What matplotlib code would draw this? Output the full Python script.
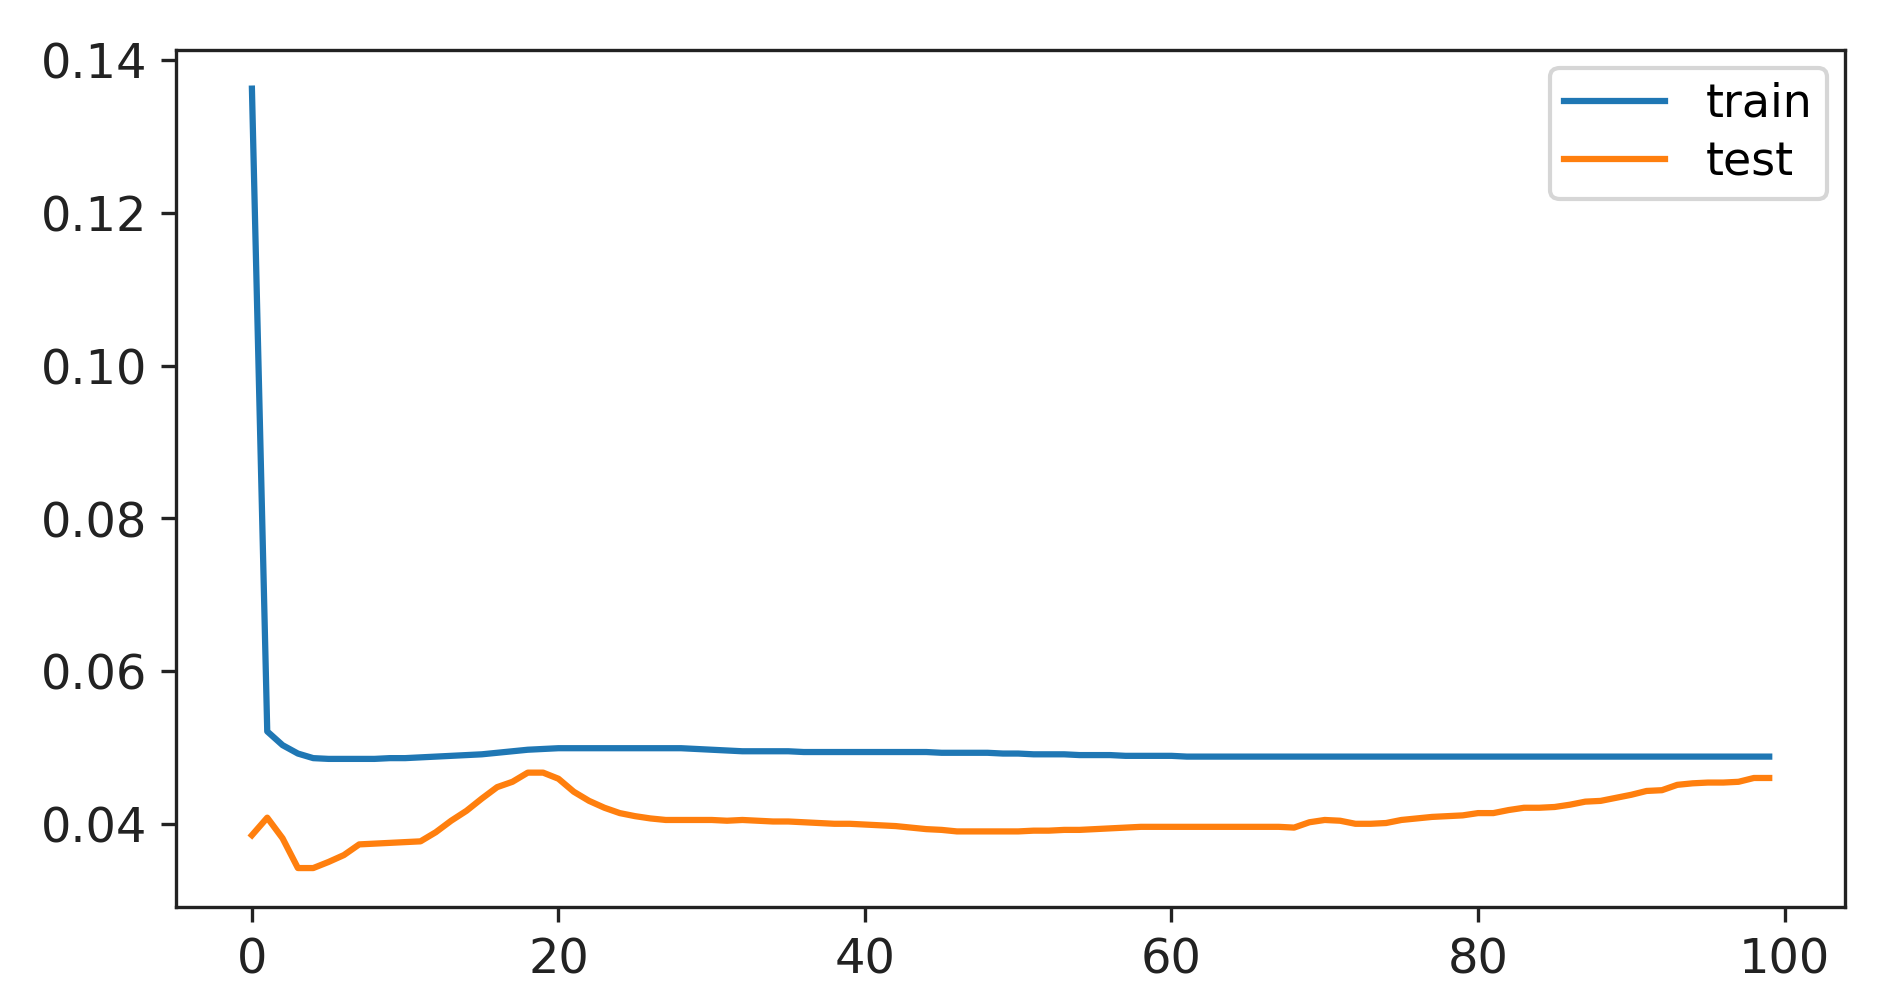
import matplotlib
matplotlib.use("Agg")
import matplotlib.pyplot as plt

# loss per epoch
train = [0.1363, 0.0521, 0.0503, 0.0492, 0.0486, 0.0485, 0.0485, 0.0485, 0.0485, 0.0486,
         0.0486, 0.0487, 0.0488, 0.0489, 0.0490, 0.0491, 0.0493, 0.0495, 0.0497, 0.0498,
         0.0499, 0.0499, 0.0499, 0.0499, 0.0499, 0.0499, 0.0499, 0.0499, 0.0499, 0.0498,
         0.0497, 0.0496, 0.0495, 0.0495, 0.0495, 0.0495, 0.0494, 0.0494, 0.0494, 0.0494,
         0.0494, 0.0494, 0.0494, 0.0494, 0.0494, 0.0493, 0.0493, 0.0493, 0.0493, 0.0492,
         0.0492, 0.0491, 0.0491, 0.0491, 0.0490, 0.0490, 0.0490, 0.0489, 0.0489, 0.0489,
         0.0489, 0.0488, 0.0488, 0.0488, 0.0488, 0.0488, 0.0488, 0.0488, 0.0488, 0.0488,
         0.0488, 0.0488, 0.0488, 0.0488, 0.0488, 0.0488, 0.0488, 0.0488, 0.0488, 0.0488,
         0.0488, 0.0488, 0.0488, 0.0488, 0.0488, 0.0488, 0.0488, 0.0488, 0.0488, 0.0488,
         0.0488, 0.0488, 0.0488, 0.0488, 0.0488, 0.0488, 0.0488, 0.0488, 0.0488, 0.0488]
test = [0.0385, 0.0408, 0.0381, 0.0342, 0.0342, 0.0350, 0.0359, 0.0373, 0.0374, 0.0375,
        0.0376, 0.0377, 0.0389, 0.0404, 0.0417, 0.0433, 0.0448, 0.0455, 0.0467, 0.0467,
        0.0459, 0.0442, 0.0430, 0.0421, 0.0414, 0.0410, 0.0407, 0.0405, 0.0405, 0.0405,
        0.0405, 0.0404, 0.0405, 0.0404, 0.0403, 0.0403, 0.0402, 0.0401, 0.0400, 0.0400,
        0.0399, 0.0398, 0.0397, 0.0395, 0.0393, 0.0392, 0.0390, 0.0390, 0.0390, 0.0390,
        0.0390, 0.0391, 0.0391, 0.0392, 0.0392, 0.0393, 0.0394, 0.0395, 0.0396, 0.0396,
        0.0396, 0.0396, 0.0396, 0.0396, 0.0396, 0.0396, 0.0396, 0.0396, 0.0395, 0.0402,
        0.0405, 0.0404, 0.0400, 0.0400, 0.0401, 0.0405, 0.0407, 0.0409, 0.0410, 0.0411,
        0.0414, 0.0414, 0.0418, 0.0421, 0.0421, 0.0422, 0.0425, 0.0429, 0.0430, 0.0434,
        0.0438, 0.0443, 0.0444, 0.0451, 0.0453, 0.0454, 0.0454, 0.0455, 0.0460, 0.0460]

fig = plt.figure(figsize=(6.263, 3.317), dpi=300)
plt.subplots_adjust(left=0.0937, right=0.982, bottom=0.0884, top=0.950)
plt.plot(train, label="train")
plt.plot(test, label="test")
plt.tick_params(labelsize=11.5, colors="#222222")
ax = plt.gca()
for s in ax.spines.values():
    s.set_color("#222222")
plt.legend(fontsize=11, handlelength=2.2, labelspacing=0.3, borderpad=0.3,
           handletextpad=0.9, borderaxespad=0.4)
plt.savefig("out.png", dpi=300)
